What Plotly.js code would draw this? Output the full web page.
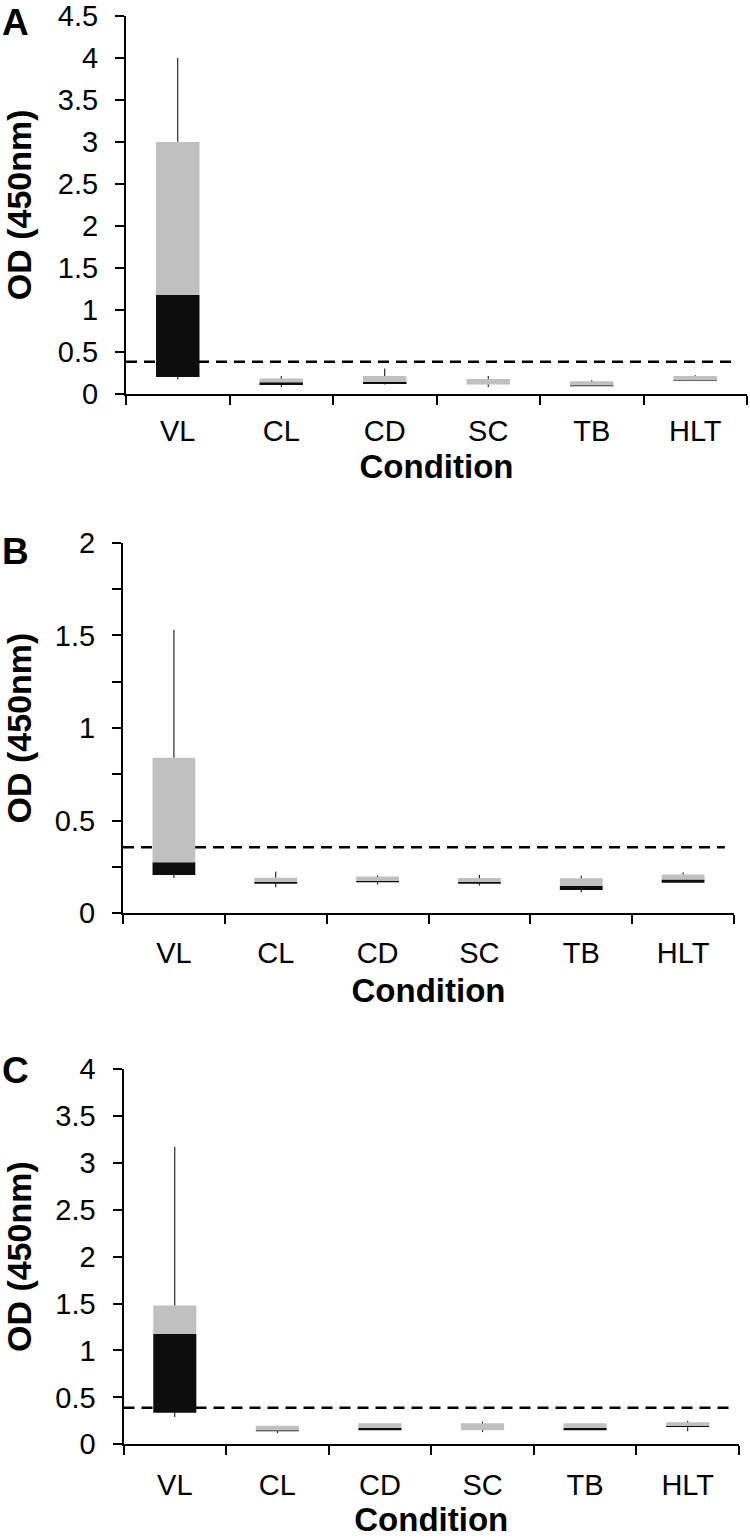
<!DOCTYPE html>
<html>
<head>
<meta charset="utf-8">
<script src="https://cdn.plot.ly/plotly-3.0.1.min.js"></script>
<style>
html,body{margin:0;padding:0;background:#fff;}
#chart{width:750px;height:1540px;}
</style>
</head>
<body>
<div id="chart"></div>
<script>
// ---- Data ----
const categories = ["VL", "CL", "CD", "SC", "TB", "HLT"];

// Panel A
const A_min = [0.17, 0.08, 0.11, 0.08, 0.09, 0.15];
const A_q1  = [0.20, 0.105, 0.115, 0.11, 0.09, 0.15];
const A_med = [1.18, 0.135, 0.14, 0.11, 0.10, 0.16];
const A_q3  = [3.00, 0.18, 0.21, 0.175, 0.147, 0.21];
const A_max = [4.00, 0.21, 0.30, 0.21, 0.16, 0.22];

// Panel B
const B_min = [0.19, 0.14, 0.155, 0.15, 0.113, 0.165];
const B_q1  = [0.207, 0.16, 0.168, 0.16, 0.126, 0.165];
const B_med = [0.275, 0.17, 0.176, 0.17, 0.149, 0.183];
const B_q3  = [0.84, 0.192, 0.198, 0.19, 0.189, 0.21];
const B_max = [1.53, 0.225, 0.205, 0.207, 0.203, 0.221];

// Panel C
const C_min = [0.29, 0.12, 0.15, 0.13, 0.15, 0.14];
const C_q1  = [0.337, 0.14, 0.15, 0.15, 0.15, 0.185];
const C_med = [1.176, 0.15, 0.177, 0.15, 0.177, 0.195];
const C_q3  = [1.48, 0.198, 0.224, 0.224, 0.224, 0.234];
const C_max = [3.17, 0.20, 0.224, 0.24, 0.224, 0.25];

const cutoffs = [0.38, 0.356, 0.39];
const panelLetters = ["A", "B", "C"];
const yRanges = [[0, 4.5], [0, 2], [0, 4]];
const yTitleText = "OD (450nm)";
const xTitleText = "Condition";

// ---- Styles ----
const FONT = "Liberation Sans, Arial, sans-serif";
const BLACK = "#0d0d0d";
const GRAY = "#c0c0c0";
const W = 750, H = 1540;

const panels = [
  {min: A_min, q1: A_q1, med: A_med, q3: A_q3, max: A_max, xs: [126, 747], ys: [16, 393.7],
   letterY: 0, letterAnchor: "top", minor: false, xTickOff: 10, xTitleOff: 9},
  {min: B_min, q1: B_q1, med: B_med, q3: B_q3, max: B_max, xs: [123, 734], ys: [542.7, 913.3],
   letterY: 551, letterAnchor: "middle", minor: true, xTickOff: 13, xTitleOff: 11},
  {min: C_min, q1: C_q1, med: C_med, q3: C_q3, max: C_max, xs: [123.5, 739], ys: [1069, 1444.3],
   letterY: 1070, letterAnchor: "middle", minor: false, xTickOff: 14, xTitleOff: 5}
];

const traces = [];
const layout = {
  width: W, height: H,
  margin: {l: 0, r: 0, t: 0, b: 0},
  paper_bgcolor: "#fff", plot_bgcolor: "#fff",
  showlegend: false,
  barmode: "overlay",
  font: {family: FONT, color: "#000"},
  shapes: [], annotations: []
};

panels.forEach((p, i) => {
  const n = i === 0 ? "" : String(i + 1);
  const xa = "x" + n, ya = "y" + n;
  const sub = (a, b) => a.map((v, k) => v - b[k]);
  traces.push({type: "bar", x: categories, y: sub(p.med, p.q1), base: p.q1, width: 0.42,
    marker: {color: BLACK, line: {width: 0}}, xaxis: xa, yaxis: ya, hoverinfo: "skip"});
  traces.push({type: "bar", x: categories, y: sub(p.q3, p.med), base: p.med, width: 0.42,
    marker: {color: GRAY, line: {width: 0}}, xaxis: xa, yaxis: ya, hoverinfo: "skip"});
  traces.push({type: "scatter", mode: "markers", x: categories, y: p.q3,
    marker: {opacity: 0, size: 1},
    error_y: {type: "data", symmetric: false, array: sub(p.max, p.q3), arrayminus: p.q3.map(() => 0),
      width: 0, thickness: 1, color: "#000"}, xaxis: xa, yaxis: ya, hoverinfo: "skip"});
  traces.push({type: "scatter", mode: "markers", x: categories, y: p.q1,
    marker: {opacity: 0, size: 1},
    error_y: {type: "data", symmetric: false, array: p.q1.map(() => 0), arrayminus: sub(p.q1, p.min),
      width: 0, thickness: 1, color: "#000"}, xaxis: xa, yaxis: ya, hoverinfo: "skip"});

  layout["xaxis" + n] = {
    domain: [p.xs[0] / W, p.xs[1] / W],
    anchor: ya,
    type: "category",
    range: [-0.5, categories.length - 0.5],
    showline: true, linecolor: "#000", linewidth: 2,
    ticks: "outside", ticklen: 9, tickwidth: 2, tickcolor: "#000",
    tickson: "boundaries",
    showgrid: false, zeroline: false,
    tickfont: {family: FONT, size: 29, color: "#000"},
    ticklabelstandoff: p.xTickOff,
    title: {text: "<b>" + xTitleText + "</b>", font: {family: FONT, size: 33, color: "#000"}, standoff: p.xTitleOff},
    automargin: false, fixedrange: true
  };
  const yax = {
    domain: [1 - p.ys[1] / H, 1 - p.ys[0] / H],
    anchor: xa,
    range: yRanges[i],
    dtick: 0.5, tick0: 0,
    showline: true, linecolor: "#000", linewidth: 2,
    ticks: "outside", ticklen: 9, tickwidth: 2, tickcolor: "#000",
    showgrid: false, zeroline: false,
    tickfont: {family: FONT, size: 29, color: "#000"},
    ticklabelstandoff: 11,
    ticklabeloverflow: "allow",
    title: {text: "<b>" + yTitleText + "</b>", font: {family: FONT, size: 34, color: "#000"}, standoff: 28},
    automargin: false, fixedrange: true
  };
  if (p.minor) {
    yax.minor = {dtick: 0.25, tick0: 0, ticks: "outside", ticklen: 9, tickwidth: 2, tickcolor: "#000", showgrid: false};
  }
  layout["yaxis" + n] = yax;

  layout.shapes.push({type: "line", xref: xa + " domain", yref: ya,
    x0: 0, x1: 0.985, y0: cutoffs[i], y1: cutoffs[i],
    line: {color: "#000", width: 2.5, dash: "11px,7px"}, layer: "below"});

  layout.annotations.push({text: "<b>" + panelLetters[i] + "</b>", xref: "paper", yref: "paper",
    x: 0, xanchor: "left", y: 1 - p.letterY / H, yanchor: p.letterAnchor, showarrow: false,
    font: {family: FONT, size: 37, color: "#000"}});
});

Plotly.newPlot("chart", traces, layout, {staticPlot: true, displayModeBar: false});
</script>
</body>
</html>
